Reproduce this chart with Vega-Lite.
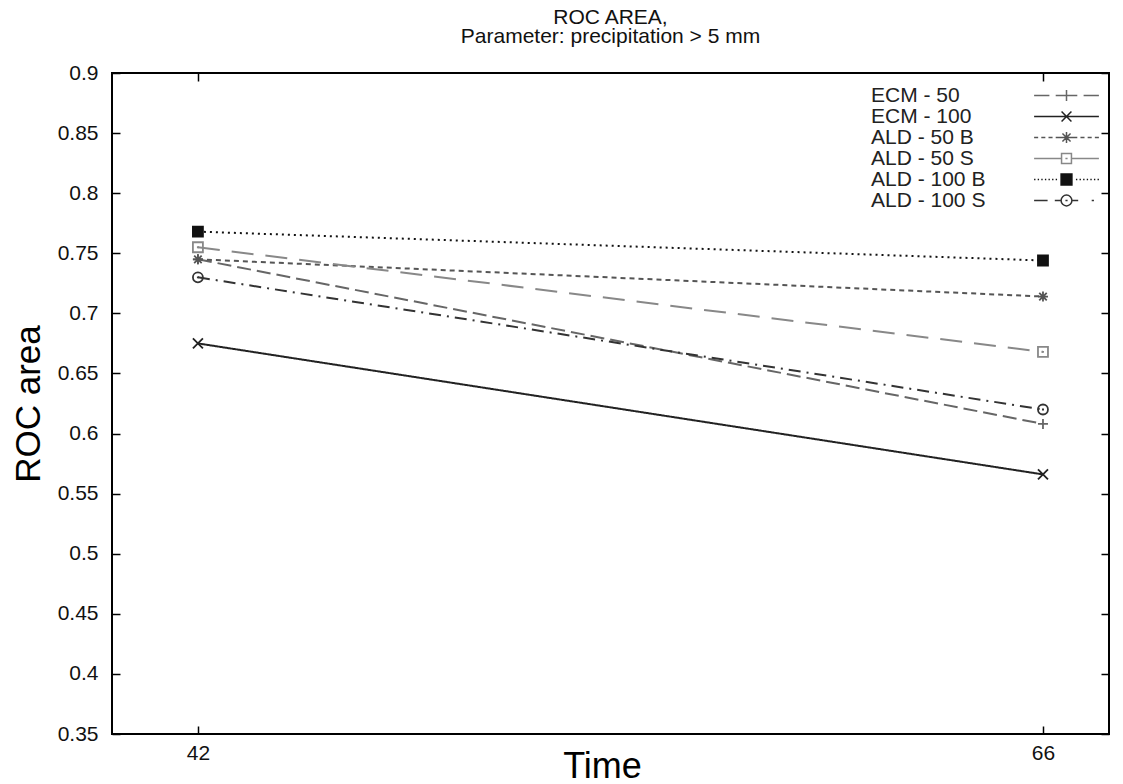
{
  "$schema": "https://vega.github.io/schema/vega-lite/v6.json",
  "width": 997,
  "height": 661,
  "autosize": "none",
  "padding": {"left": 112, "top": 73, "right": 14, "bottom": 50},
  "background": "white",
  "config": {
    "font": "Liberation Sans",
    "view": {"stroke": "#000", "strokeWidth": 2},
    "axis": {"domain": false, "grid": false, "tickColor": "#000", "tickWidth": 1.5, "labelColor": "#111", "titleColor": "#000", "titleFontWeight": "normal", "labelFont": "Liberation Sans", "titleFont": "Liberation Sans"},
    "legend": {"orient": "none", "legendX": 944, "legendY": 12, "padding": 0, "symbolSize": 324, "symbolStrokeWidth": 1.5, "labelFontSize": 21, "labelFont": "Liberation Sans", "labelColor": "#222222", "labelAlign": "left", "labelOffset": -206, "rowPadding": -1.2}
  },
  "title": {
    "text": ["ROC AREA,", "Parameter: precipitation > 5 mm"],
    "fontSize": 21,
    "fontWeight": "normal",
    "font": "Liberation Sans",
    "color": "#111",
    "lineHeight": 19,
    "offset": 15,
    "anchor": "middle"
  },
  "data": {
    "values": [
      {"series": "ECM - 50", "time": 42, "value": 0.745},
      {"series": "ECM - 50", "time": 66, "value": 0.608},
      {"series": "ECM - 100", "time": 42, "value": 0.675},
      {"series": "ECM - 100", "time": 66, "value": 0.566},
      {"series": "ALD - 50 B", "time": 42, "value": 0.745},
      {"series": "ALD - 50 B", "time": 66, "value": 0.714},
      {"series": "ALD - 50 S", "time": 42, "value": 0.755},
      {"series": "ALD - 50 S", "time": 66, "value": 0.668},
      {"series": "ALD - 100 B", "time": 42, "value": 0.768},
      {"series": "ALD - 100 B", "time": 66, "value": 0.744},
      {"series": "ALD - 100 S", "time": 42, "value": 0.730},
      {"series": "ALD - 100 S", "time": 66, "value": 0.620}
    ]
  },
  "resolve": {"axis": {"x": "independent", "y": "independent"}},
  "layer": [
    {
      "resolve": {
        "scale": {"stroke": "independent", "shape": "independent", "fill": "independent"},
        "legend": {"stroke": "independent", "shape": "independent", "fill": "independent"}
      },
      "layer": [
        {
          "mark": {"type": "line", "strokeWidth": 2},
          "encoding": {
            "x": {"field": "time", "type": "quantitative", "scale": {"domain": [39.56, 67.875], "nice": false, "zero": false},
              "axis": {"orient": "bottom", "values": [42, 66], "title": "Time", "titleFontSize": 36, "titleBaseline": "alphabetic", "titleY": 43, "titleX": 490, "labelFontSize": 21, "tickSize": -8, "labelPadding": 16.5}},
            "y": {"field": "value", "type": "quantitative", "scale": {"domain": [0.35, 0.9], "nice": false, "zero": false},
              "axis": {"orient": "left", "values": [0.35, 0.4, 0.45, 0.5, 0.55, 0.6, 0.65, 0.7, 0.75, 0.8, 0.85, 0.9], "format": ".2~f", "title": "ROC area", "titleFontSize": 35, "titleBaseline": "alphabetic", "titleX": -73, "titleY": 330.5, "labelFontSize": 21, "tickSize": -8, "labelPadding": 22}},
            "stroke": {"field": "series", "type": "nominal", "legend": null,
              "scale": {"domain": ["ECM - 50", "ECM - 100", "ALD - 50 B", "ALD - 50 S", "ALD - 100 B", "ALD - 100 S"], "range": ["#666666", "#222222", "#555555", "#888888", "#111111", "#333333"]}},
            "strokeDash": {"field": "series", "type": "nominal", "legend": null,
              "scale": {"domain": ["ECM - 50", "ECM - 100", "ALD - 50 B", "ALD - 50 S", "ALD - 100 B", "ALD - 100 S"], "range": [[14, 6], [1, 0], [5, 4], [22, 12], [2, 4], [12, 6, 2, 6]]}}
          }
        },
        {
          "mark": {"type": "point", "filled": false, "size": 100, "strokeWidth": 1.8, "opacity": 1},
          "encoding": {
            "x": {"field": "time", "type": "quantitative"},
            "y": {"field": "value", "type": "quantitative"},
            "stroke": {"field": "series", "type": "nominal", "legend": null,
              "scale": {"domain": ["ECM - 50", "ECM - 100", "ALD - 50 B", "ALD - 50 S", "ALD - 100 B", "ALD - 100 S"], "range": ["#666666", "#222222", "#555555", "#888888", "#111111", "#333333"]}},
            "shape": {"field": "series", "type": "nominal", "legend": null,
              "scale": {"domain": ["ECM - 50", "ECM - 100", "ALD - 50 B", "ALD - 50 S", "ALD - 100 B", "ALD - 100 S"],
                "range": ["M-1,0H1M0,-1V1", "M-1,-1L1,1M-1,1L1,-1", "M-1,0H1M0,-1V1M-0.75,-0.75L0.75,0.75M-0.75,0.75L0.75,-0.75", "M-1,-1H1V1H-1ZM-0.2,0H0.2", "M-1,-1H1V1H-1Z", "M-1,0A1,1 0 1,0 1,0A1,1 0 1,0 -1,0M-0.2,0H0.2"]}},
            "fill": {"field": "series", "type": "nominal", "legend": null,
              "scale": {"domain": ["ECM - 50", "ECM - 100", "ALD - 50 B", "ALD - 50 S", "ALD - 100 B", "ALD - 100 S"], "range": ["transparent", "transparent", "transparent", "transparent", "#111111", "transparent"]}}
          }
        },
        {
          "transform": [{"filter": "false"}],
          "mark": {"type": "point", "filled": false, "strokeWidth": 1.5, "opacity": 1},
          "encoding": {
            "stroke": {"field": "series", "type": "nominal", "legend": {"title": null},
              "scale": {"domain": ["ECM - 50", "ECM - 100", "ALD - 50 B", "ALD - 50 S", "ALD - 100 B", "ALD - 100 S"], "range": ["#666666", "#222222", "#555555", "#888888", "#111111", "#333333"]}},
            "shape": {"field": "series", "type": "nominal", "legend": {"title": null},
              "scale": {"domain": ["ECM - 50", "ECM - 100", "ALD - 50 B", "ALD - 50 S", "ALD - 100 B", "ALD - 100 S"],
                "range": [
                  "M-3.6,0H-1.9M-1.2,0H1.2M1.9,0H3.6M0,-0.6V0.6",
                  "M-3.6,0H3.6M-0.55,-0.55L0.55,0.55M-0.55,0.55L0.55,-0.55",
                  "M-3.6,0H-3.15M-2.8,0H-2.35M-2,0H-1.55M-1.2,0H-0.6M0.6,0H1.2M1.55,0H2M2.35,0H2.8M3.15,0H3.6M-0.6,0H0.6M0,-0.6V0.6M-0.45,-0.45L0.45,0.45M-0.45,0.45L0.45,-0.45",
                  "M-3.6,0H-0.55M0.55,0H3.6M-0.55,-0.55H0.55V0.55H-0.55ZM-0.12,0H0.12",
                  "M-3.6,0H-3.45M-3.2,0H-3.05M-2.8,0H-2.65M-2.4,0H-2.25M-2,0H-1.85M-1.6,0H-1.45M-1.2,0H-1.05M1.05,0H1.2M1.45,0H1.6M1.85,0H2M2.25,0H2.4M2.65,0H2.8M3.05,0H3.2M3.45,0H3.6M-0.6,-0.6H0.6V0.6H-0.6Z",
                  "M-3.6,0H-2.1M-1.3,0H-0.6M0.6,0H1.3M2.8,0H3.05M-0.6,0A0.6,0.6 0 1,0 0.6,0A0.6,0.6 0 1,0 -0.6,0M-0.12,0H0.12"
                ]}},
            "fill": {"field": "series", "type": "nominal", "legend": {"title": null},
              "scale": {"domain": ["ECM - 50", "ECM - 100", "ALD - 50 B", "ALD - 50 S", "ALD - 100 B", "ALD - 100 S"], "range": ["transparent", "transparent", "transparent", "transparent", "#111111", "transparent"]}}
          }
        }
      ]
    },
    {
      "mark": {"type": "point", "opacity": 0},
      "encoding": {
        "x": {"field": "time", "type": "quantitative", "axis": {"orient": "top", "values": [42, 66], "labels": false, "title": null, "tickSize": -8}},
        "y": {"field": "value", "type": "quantitative", "axis": {"orient": "right", "values": [0.35, 0.4, 0.45, 0.5, 0.55, 0.6, 0.65, 0.7, 0.75, 0.8, 0.85, 0.9], "labels": false, "title": null, "tickSize": -8}}
      }
    }
  ]
}
